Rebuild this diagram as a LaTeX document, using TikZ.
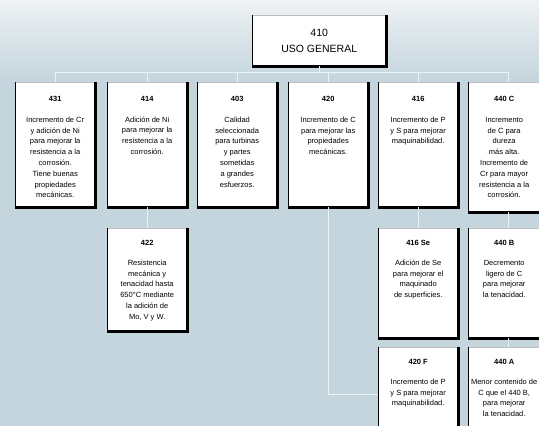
\documentclass[tikz,border=0pt]{standalone}
\usepackage{fontspec}
\setmainfont{Liberation Sans}
\usetikzlibrary{positioning,calc}

\definecolor{fondo}{RGB}{197,213,221}
\definecolor{fondoclaro}{RGB}{238,242,244}
\definecolor{linea}{RGB}{236,243,246}

\tikzset{
  ficha/.style={fill=white, draw=gray!50, line width=0.4pt, minimum width=80pt, inner sep=0pt, anchor=north west},
  texto/.style={font=\fontsize{7.5}{10.8}\selectfont, align=center, anchor=north, inner sep=0pt},
  conector/.style={draw=linea, line width=1pt},
  bordefino/.style={draw=black, line width=0.8pt},
  bordegrueso/.style={draw=black, line width=2.4pt}
}

\begin{document}
\begin{tikzpicture}[x=1pt, y=-1pt]
    \useasboundingbox (0,0) rectangle (539,426);
    \clip (0,0) rectangle (539,426);
    % Background
    \fill[fondo] (0,0) rectangle (539,426);
    \shade[top color=fondoclaro, bottom color=fondo] (0,0) rectangle (539,80);

    % Top level
    \node[ficha, minimum width=134pt, minimum height=51pt, align=center, font=\fontsize{10.5}{16}\selectfont] (u410) at (252,15) {410\\USO GENERAL};

    % First row
    \node[ficha, minimum height=125pt] (f431) at (15,82) {};
    \node[ficha, minimum height=125pt] (f414) at (107,82) {};
    \node[ficha, minimum height=125pt] (f403) at (197,82) {};
    \node[ficha, minimum height=125pt] (f420) at (288,82) {};
    \node[ficha, minimum height=125pt] (f416) at (378,82) {};
    \node[ficha, minimum height=130pt] (f440c) at (468,82) {};

    % Second row
    \node[ficha, minimum height=103pt] (f422) at (107,228) {};
    \node[ficha, minimum height=110pt] (f416se) at (378,228) {};
    \node[ficha, minimum height=110pt] (f440b) at (468,228) {};

    % Third row
    \node[ficha, minimum height=95pt] (f420f) at (378,347) {};
    \node[ficha, minimum height=95pt] (f440a) at (468,347) {};

    % Edges
    \foreach \n in {u410,f431,f414,f403,f420,f416,f440c,f422,f416se,f440b,f420f,f440a} {
        \draw[bordefino] (\n.north west) -- (\n.south west);
        \draw[bordegrueso] (\n.north east) -- (\n.south east) -- (\n.south west);
    }

    % Texts
    \node[texto] (t431) at ([yshift=-14pt]f431.north) {\textbf{431}\\[10pt]Incremento de Cr\\y adición de Ni\\para mejorar la\\resistencia a la\\corrosión.\\Tiene buenas\\propiedades\\mecánicas.};
    \node[texto] (t414) at ([yshift=-14pt]f414.north) {\textbf{414}\\[10pt]Adición de Ni\\para mejorar la\\resistencia a la\\corrosión.};
    \node[texto] (t403) at ([yshift=-14pt]f403.north) {\textbf{403}\\[10pt]Calidad\\seleccionada\\para turbinas\\y partes\\sometidas\\a grandes\\esfuerzos.};
    \node[texto] (t420) at ([yshift=-14pt]f420.north) {\textbf{420}\\[10pt]Incremento de C\\para mejorar las\\propiedades\\mecánicas.};
    \node[texto] (t416) at ([yshift=-14pt]f416.north) {\textbf{416}\\[10pt]Incremento de P\\y S para mejorar\\maquinabilidad.};
    \node[texto] (t440c) at ([yshift=-14pt,xshift=-4pt]f440c.north) {\textbf{440 C}\\[10pt]Incremento\\de C para\\dureza\\más alta.\\Incremento de\\Cr para mayor\\resistencia a la\\corrosión.};
    \node[texto] (t422) at ([yshift=-12pt]f422.north) {\textbf{422}\\[9pt]Resistencia\\mecánica y\\tenacidad hasta\\650°C mediante\\la adición de\\Mo, V y W.};
    \node[texto] (t416se) at ([yshift=-12pt]f416se.north) {\textbf{416 Se}\\[9pt]Adición de Se\\para mejorar el\\maquinado\\de superficies.};
    \node[texto] (t440b) at ([yshift=-12pt,xshift=-4pt]f440b.north) {\textbf{440 B}\\[9pt]Decremento\\ligero de C\\para mejorar\\la tenacidad.};
    \node[texto] (t420f) at ([yshift=-12pt]f420f.north) {\textbf{420 F}\\[9pt]Incremento de P\\y S para mejorar\\maquinabilidad.};
    \node[texto] (t440a) at ([yshift=-12pt,xshift=-4pt]f440a.north) {\textbf{440 A}\\[9pt]Menor contenido de\\C que el 440 B,\\para mejorar\\la tenacidad.};

    % Connectors
    \draw[conector] (u410.south) -- ++(0,6) coordinate (b0);
    \foreach \n in {f431,f414,f403,f420,f416,f440c}
        \draw[conector] (b0) -| (\n.north);
    \draw[conector] (f414.south) -- (f422.north);
    \draw[conector] (f416.south) -- (f416se.north);
    \draw[conector] (f440c.south) -- (f440b.north);
    \draw[conector] (f440b.south) -- (f440a.north);
    \draw[conector] (f420.south) |- (f420f.west);
\end{tikzpicture}
\end{document}
